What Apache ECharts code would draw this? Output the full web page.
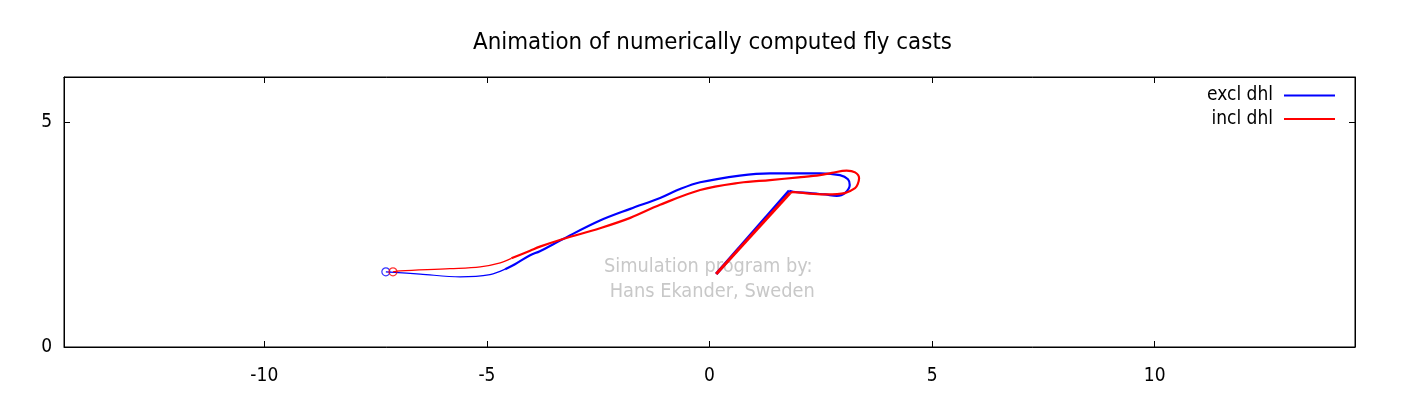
<!DOCTYPE html>
<html><head><meta charset="utf-8">
<script src="https://cdn.jsdelivr.net/npm/echarts@6/dist/echarts.min.js"></script>
<style>html,body{margin:0;padding:0;background:#fff}#c{width:1404px;height:401px}</style>
</head><body><div id="c"></div>
<script>
// tick labels
const xTicks = [-10, -5, 0, 5, 10];
const yTicks = [0, 5];
// excl dhl (blue)
const exclLeader = [[-7.27,1.67],[-6.5,1.62],[-5.6,1.56],[-4.93,1.61],[-4.59,1.73]];
const exclLine = [[-4.59,1.73],[-4.37,1.84],[-4.03,2.04],[-3.81,2.13],[-3.29,2.40],[-2.46,2.81],[-1.78,3.07],[-1.11,3.31],[-0.66,3.51],[-0.21,3.66],[0.68,3.81],[1.36,3.86],[2.48,3.86],[2.93,3.82],[3.11,3.73],[3.15,3.60],[3.04,3.42],[2.86,3.36],[2.6,3.39],[2.26,3.42],[1.88,3.45],[1.79,3.47]];
const exclRod = [[1.79,3.47],[0.15,1.62]];
// incl dhl (red)
const inclLeader = [[-7.11,1.67],[-6.95,1.69],[-5.83,1.74],[-5.15,1.78],[-4.70,1.87],[-4.45,1.97]];
const inclLine = [[-4.45,1.97],[-4.03,2.14],[-3.81,2.23],[-3.29,2.40],[-2.46,2.64],[-1.78,2.87],[-1.11,3.16],[-0.21,3.49],[0.68,3.65],[1.36,3.71],[2.0,3.77],[2.48,3.82],[2.75,3.87],[3.08,3.92],[3.27,3.88],[3.36,3.75],[3.33,3.62],[3.27,3.53],[3.04,3.42],[2.63,3.39],[2.25,3.41],[1.87,3.44],[1.81,3.42]];
const inclRod = [[1.81,3.42],[0.15,1.62]];

const FONT = "'DejaVu Sans Condensed','DejaVu Sans',sans-serif";
const BLUE = '#0000ff', RED = '#ff0000';

function lineSeries(name, data, color, width) {
  return {name, type:'line', data, symbol:'none', showSymbol:false, smooth:0.35,
    lineStyle:{color, width}, itemStyle:{color}, silent:true, z:2};
}
function startMark(name, pt, color) {
  return {name, type:'scatter', data:[pt], symbol:'circle', symbolSize:8,
    itemStyle:{color:'rgba(0,0,0,0)', borderColor:color, borderWidth:1.2}, silent:true, z:3};
}
const axisCommon = (min, max, ticks) => ({
  type:'value', min, max,
  axisLine:{show:true, onZero:false, lineStyle:{color:'#000', width:1}},
  axisTick:{show:true, inside:true, length:6, customValues:ticks, lineStyle:{color:'#000'}},
  splitLine:{show:false}
});

const chart = echarts.init(document.getElementById('c'), null, {renderer:'canvas'});
chart.setOption({
  animation:false,
  backgroundColor:'#fff',
  title:{text:'Animation of numerically computed fly casts', left:468, top:26,
    textStyle:{fontFamily:FONT, fontSize:23.8, fontWeight:'normal', color:'#000'}},
  grid:{left:64, right:49, top:77, bottom:54, show:true, borderColor:'#000', borderWidth:1, backgroundColor:'transparent'},
  xAxis:[
    Object.assign(axisCommon(-14.5, 14.5, xTicks), {position:'bottom',
      axisLabel:{customValues:xTicks, fontFamily:FONT, fontSize:19, color:'#000', margin:20}}),
    Object.assign(axisCommon(-14.5, 14.5, xTicks), {position:'top', axisLabel:{show:false}})
  ],
  yAxis:[
    Object.assign(axisCommon(0, 6, yTicks), {position:'left',
      axisLabel:{customValues:yTicks, fontFamily:FONT, fontSize:19, color:'#000', margin:12}}),
    Object.assign(axisCommon(0, 6, yTicks), {position:'right', axisLabel:{show:false}})
  ],
  legend:[
    {data:['excl dhl'], right:64, top:81, align:'right', icon:'rect', itemWidth:51, itemHeight:2,
      textStyle:{fontFamily:FONT, fontSize:19, color:'#000', padding:[0,6,0,0]}, selectedMode:false},
    {data:['incl dhl'], right:64, top:104.5, align:'right', icon:'rect', itemWidth:51, itemHeight:2,
      textStyle:{fontFamily:FONT, fontSize:19, color:'#000', padding:[0,6,0,0]}, selectedMode:false}
  ],
  graphic:[{type:'text', left:604, top:254, silent:true,
    style:{text:'Simulation program by:\n Hans Ekander, Sweden', fill:'#c8c8c8', font:"19.8px 'DejaVu Sans Condensed','DejaVu Sans',sans-serif", lineHeight:25}}],
  series:[
    lineSeries('excl dhl', exclLeader, BLUE, 1.2),
    lineSeries('excl dhl', exclLine, BLUE, 2.2),
    lineSeries('excl dhl', exclRod, BLUE, 3),
    startMark('excl start', exclLeader[0], BLUE),
    lineSeries('incl dhl', inclLeader, RED, 1.2),
    lineSeries('incl dhl', inclLine, RED, 2.2),
    lineSeries('incl dhl', inclRod, RED, 3),
    startMark('incl start', inclLeader[0], RED)
  ]
});
</script></body></html>
